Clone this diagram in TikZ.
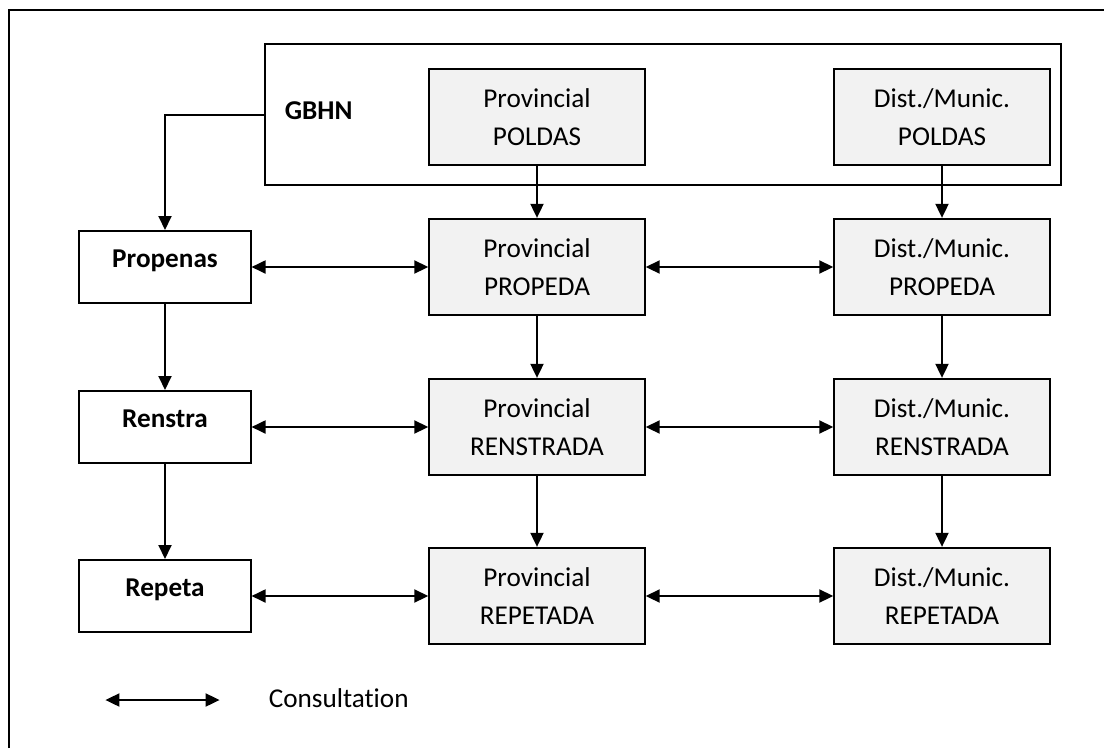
\documentclass[tikz,border=0pt]{standalone}
\usepackage{fontspec}
\setmainfont{Carlito}[Ligatures=NoCommon]
\usetikzlibrary{arrows.meta}
\definecolor{boxfill}{RGB}{242,242,242}
\begin{document}
\begin{tikzpicture}[x=1pt,y=-1pt,
  every node/.style={font=\fontsize{27.2}{38.3}\selectfont, inner sep=0pt},
  gbox/.style={draw, line width=2pt, fill=boxfill, minimum width=215.4pt, minimum height=96.3pt, align=center},
  lbox/.style={draw, line width=2pt, fill=white, minimum width=171.1pt, minimum height=72pt,
    font=\fontsize{27.2}{38.3}\selectfont\bfseries, text height=9pt, text depth=9pt},
  frame/.style={draw, line width=2pt},
  arr/.style={line width=1.9pt, -{Triangle[length=14pt,width=13pt]}},
  darr/.style={line width=1.9pt, {Triangle[length=14pt,width=13pt]}-{Triangle[length=14pt,width=13pt]}},
]
\useasboundingbox (0,0) rectangle (1104,748);
\draw[line width=2pt] (8.6,748) -- (8.6,10.3) -- (1104,10.3);

\node[frame, minimum width=796.3pt, minimum height=140.7pt] (gbhnbox) at (662.75,114.65) {};
\node[font=\fontsize{27.2}{38.3}\selectfont\bfseries, anchor=base west] (gbhn) at (284.6,119) {GBHN};

\node[gbox] (ppoldas) at (537,117) {Provincial\\POLDAS};
\node[gbox] (dpoldas) at (942,117) {Dist./Munic.\\POLDAS};
\node[gbox] (ppropeda) at (537,267) {Provincial\\PROPEDA};
\node[gbox] (dpropeda) at (942,267) {Dist./Munic.\\PROPEDA};
\node[gbox] (prenstrada) at (537,427) {Provincial\\RENSTRADA};
\node[gbox] (drenstrada) at (942,427) {Dist./Munic.\\RENSTRADA};
\node[gbox] (prepetada) at (537,596) {Provincial\\REPETADA};
\node[gbox] (drepetada) at (942,596) {Dist./Munic.\\REPETADA};

\node[lbox] (propenas) at (165,267) {Propenas};
\node[lbox] (renstra) at (165,427) {Renstra};
\node[lbox] (repeta) at (165,596) {Repeta};

\draw[arr] (gbhnbox.west) -| (propenas.north);
\draw[arr] (propenas.south) -- (renstra.north);
\draw[arr] (renstra.south) -- (repeta.north);

\draw[arr] (ppoldas.south) -- (ppropeda.north);
\draw[arr] (ppropeda.south) -- (prenstrada.north);
\draw[arr] (prenstrada.south) -- (prepetada.north);
\draw[arr] (dpoldas.south) -- (dpropeda.north);
\draw[arr] (dpropeda.south) -- (drenstrada.north);
\draw[arr] (drenstrada.south) -- (drepetada.north);

\draw[darr] (propenas.east) -- (ppropeda.west);
\draw[darr] (renstra.east) -- (prenstrada.west);
\draw[darr] (repeta.east) -- (prepetada.west);
\draw[darr] (ppropeda.east) -- (dpropeda.west);
\draw[darr] (prenstrada.east) -- (drenstrada.west);
\draw[darr] (prepetada.east) -- (drepetada.west);

\coordinate (la) at (105.4,700);
\coordinate (lb) at (219.6,700);
\draw[darr] (la) -- (lb);
\node[anchor=base west] (cons) at (268.6,707.3) {Consultation};
\end{tikzpicture}
\end{document}
